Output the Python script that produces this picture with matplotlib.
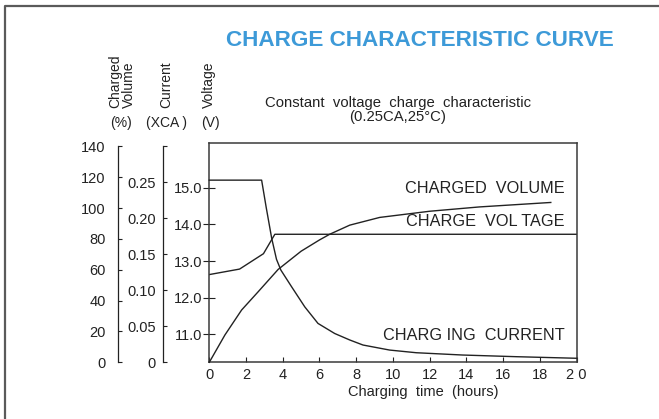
import matplotlib
matplotlib.use("Agg")
import matplotlib.pyplot as plt
from matplotlib.lines import Line2D

plt.rcParams['font.family'] = ['Liberation Sans', 'DejaVu Sans']

W, H = 659, 419

# --- data ---
current_hours = [0, 2.85, 3.1, 3.4, 3.66, 3.9, 4.48, 5.2, 5.92, 6.83, 7.65,
                 8.37, 9.82, 11.27, 13.8, 16.7, 20]
current_ca = [0.253, 0.253, 0.215, 0.172, 0.143, 0.128, 0.105, 0.077, 0.054,
              0.040, 0.031, 0.024, 0.017, 0.0133, 0.0101, 0.0078, 0.0056]

voltage_hours = [0, 1.65, 2.95, 3.57, 20]
voltage_v = [12.63, 12.78, 13.2, 13.73, 13.73]

volume_hours = [0, 0.85, 1.76, 2.66, 3.75, 5.0, 6.0, 6.56, 7.65, 9.28, 12,
                14.71, 18.6]
volume_pct = [0, 17.7, 33.9, 45.7, 60.2, 72.0, 79.3, 83.0, 88.9, 93.9, 97.9,
              100.7, 103.6]

hour_ticks = [0, 2, 4, 6, 8, 10, 12, 14, 16, 18, 20]
hour_labels = ['0', '2', '4', '6', '8', '10', '12', '14', '16', '18', '2 0']
volt_ticks = [11.0, 12.0, 13.0, 14.0, 15.0]
cur_ticks = [0, 0.05, 0.10, 0.15, 0.20, 0.25, 0.30]
cur_labels = ['0', '0.05', '0.10', '0.15', '0.20', '0.25', '']
pct_ticks = [0, 20, 40, 60, 80, 100, 120, 140]


def fx(px):
    return px / W


def fy(py):
    return 1 - py / H


fig = plt.figure(figsize=(W / 100, H / 100), dpi=100)

# outer frame (top and left edge)
fig.add_artist(Line2D([fx(5), fx(5), fx(659)], [fy(419), fy(6), fy(6)],
                      color='#5a5a5a', lw=1.6, transform=fig.transFigure))

ink = '#222222'
x0, x1 = 209.3, 576.5         # main box in pixels
y_top, y_bot = 142.7, 362.3
side_top = 146.3
px_per_hour = (x1 - x0) / 20

# main axes: voltage
ax = fig.add_axes([fx(x0), fy(y_bot), fx(x1) - fx(x0), fy(y_top) - fy(y_bot)])
ax.set_xlim(0, 20)
ax.set_ylim(10.235, 16.23)
ax.plot(voltage_hours, voltage_v, color=ink, lw=1.0)
ax.set_xticks(hour_ticks)
ax.set_xticklabels(hour_labels)
ax.set_yticks(volt_ticks)
ax.set_yticklabels([f'{v:.1f}' for v in volt_ticks])
ax.tick_params(axis='x', direction='in', length=3.5, width=0.8, pad=4,
               labelsize=10.5, colors=ink)
ax.tick_params(axis='y', direction='inout', length=8, width=0.8, pad=1,
               labelsize=10.5, colors=ink)
for s in ax.spines.values():
    s.set_color('#3a3a3a')
    s.set_linewidth(1.1)


def side_axis(px, ymax):
    left = px
    a = fig.add_axes([fx(left), fy(y_bot), fx(x1) - fx(left),
                      fy(side_top) - fy(y_bot)])
    a.set_facecolor('none')
    a.set_xlim(-(x0 - left) / px_per_hour, 20)
    a.set_ylim(0, ymax)
    for k in ('top', 'right', 'bottom'):
        a.spines[k].set_visible(False)
    a.spines['left'].set_color(ink)
    a.spines['left'].set_linewidth(0.9)
    a.set_xticks([])
    return a


# current axis
ax_c = side_axis(162.7, 0.30)
ax_c.plot(current_hours, current_ca, color=ink, lw=1.0, clip_on=False)
ax_c.set_yticks(cur_ticks)
ax_c.set_yticklabels(cur_labels)
ax_c.tick_params(axis='y', direction='in', length=3, width=0.8, pad=5,
                 labelsize=10.5, colors=ink)

# charged volume axis
ax_p = side_axis(118.3, 140)
ax_p.plot(volume_hours, volume_pct, color=ink, lw=1.0, clip_on=False)
ax_p.set_yticks(pct_ticks)
ax_p.set_yticklabels([str(p) for p in pct_ticks])
ax_p.tick_params(axis='y', direction='in', length=3, width=0.8, pad=9,
                 labelsize=10.5, colors=ink)

# titles and headings
fig.text(fx(420), fy(40), 'CHARGE CHARACTERISTIC CURVE', ha='center',
         va='center', fontsize=16.2, fontweight='bold', color='#3d9ad8')
fig.text(fx(398), fy(110), 'Constant  voltage  charge  characteristic\n(0.25CA,25°C)',
         ha='center', va='center', fontsize=10.7, color=ink, linespacing=1.05)

fig.text(fx(122), fy(108), 'Charged\nVolume', rotation=90, ha='center',
         va='bottom', multialignment='left', fontsize=10, color=ink,
         linespacing=1.0)
fig.text(fx(166), fy(108), 'Current', rotation=90, ha='center', va='bottom',
         fontsize=10, color=ink)
fig.text(fx(209), fy(108), 'Voltage', rotation=90, ha='center', va='bottom',
         fontsize=10, color=ink)
fig.text(fx(121), fy(123), '(%)', ha='center', va='center', fontsize=10, color=ink)
fig.text(fx(166), fy(123), '(XCA )', ha='center', va='center', fontsize=10, color=ink)
fig.text(fx(210), fy(123), '(V)', ha='center', va='center', fontsize=10, color=ink)

# curve names
fig.text(fx(565), fy(188), 'CHARGED  VOLUME', ha='right', va='center',
         fontsize=11.7, color=ink)
fig.text(fx(565), fy(221.7), 'CHARGE  VOL TAGE', ha='right', va='center',
         fontsize=11.7, color=ink)
fig.text(fx(565), fy(335.7), 'CHARG ING  CURRENT', ha='right', va='center',
         fontsize=11.7, color=ink)

fig.text(fx(423), fy(391.7), 'Charging  time  (hours)', ha='center',
         va='center', fontsize=10.5, color=ink)

fig.savefig('out.png', dpi=100)
